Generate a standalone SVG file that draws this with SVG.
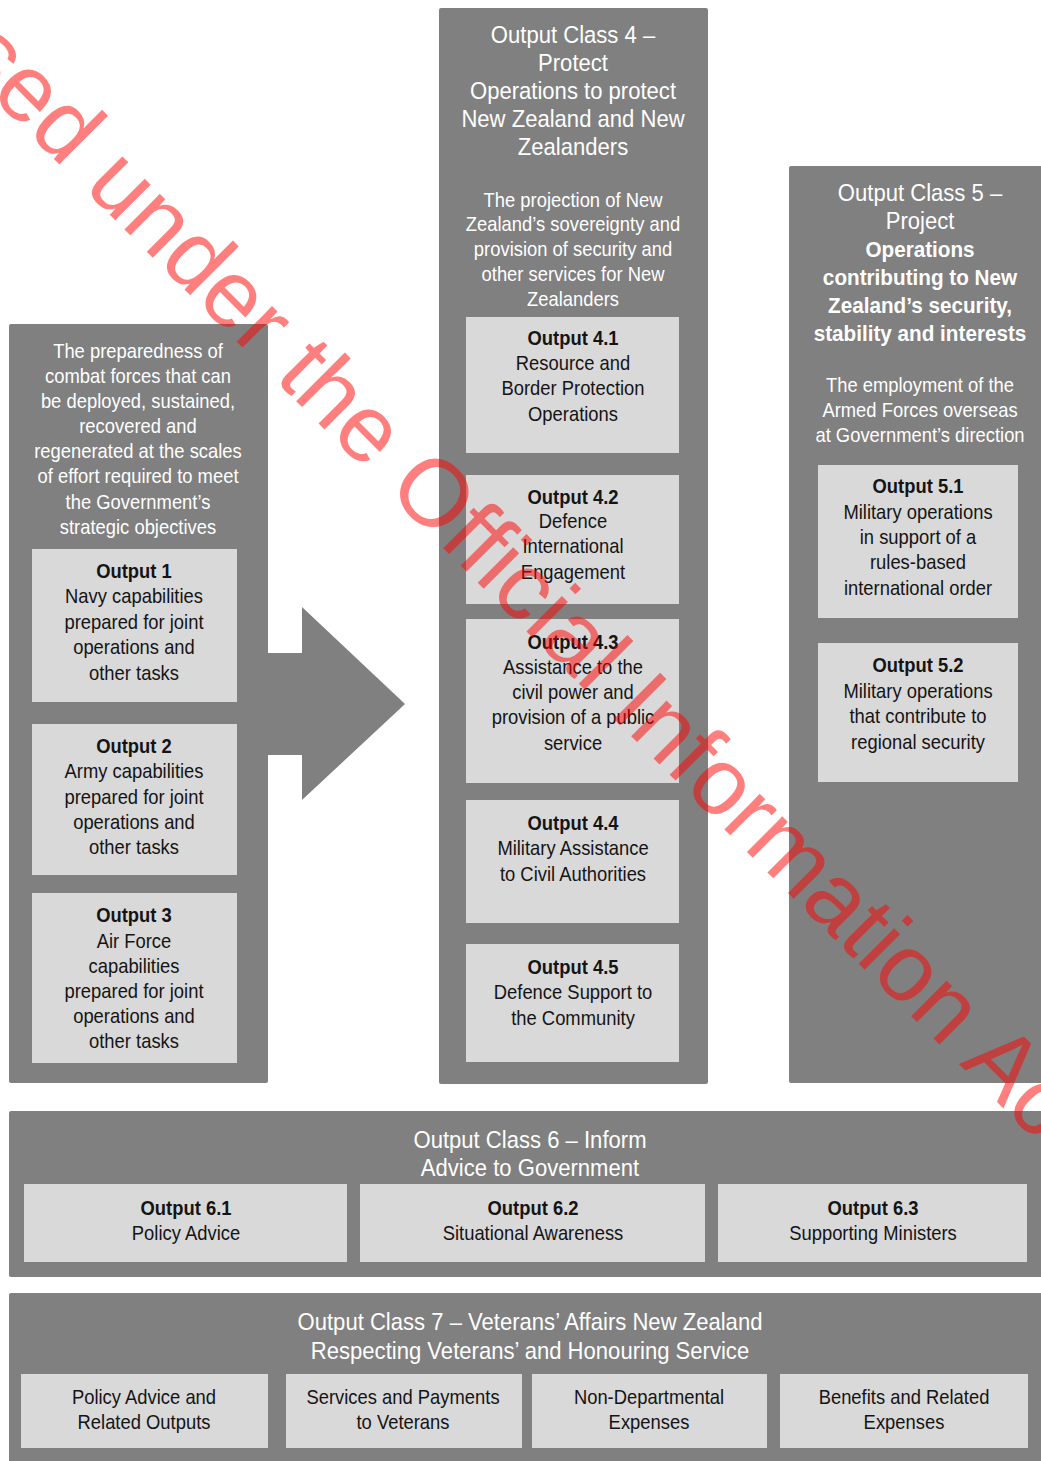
<svg xmlns="http://www.w3.org/2000/svg" width="1041" height="1461" viewBox="0 0 1041 1461">
<style>
.panel{fill:#808080}
.box{fill:#d9d9d9}
.t{font-family:"Liberation Sans",Arial,sans-serif;text-anchor:middle}
.w{fill:#ffffff}
.d{fill:#141414}
.s20{font-size:20px}
.s24{font-size:24px}
.b{font-weight:bold}
.wm{font-family:"Liberation Sans",Arial,sans-serif;font-size:95px;fill:#ff0000;fill-opacity:0.5}
</style>
<rect width="1041" height="1461" fill="#ffffff"/>

<g id="class-prepare">
<rect class="panel" x="9" y="324" width="259" height="759" rx="2"/>
<g class="t w s20" transform="translate(138,0) scale(0.92,1)">
<text x="0" y="358">The preparedness of</text>
<text x="0" y="383">combat forces that can</text>
<text x="0" y="408">be deployed, sustained,</text>
<text x="0" y="433">recovered and</text>
<text x="0" y="458">regenerated at the scales</text>
<text x="0" y="483">of effort required to meet</text>
<text x="0" y="509">the Government’s</text>
<text x="0" y="534">strategic objectives</text>
</g>
</g>

<g id="output-1">
<rect class="box" x="32" y="549" width="205" height="153"/>
<g class="t d s20" transform="translate(134,0) scale(0.92,1)">
<text x="0" y="578" class="b">Output 1</text>
<text x="0" y="603">Navy capabilities</text>
<text x="0" y="629">prepared for joint</text>
<text x="0" y="654">operations and</text>
<text x="0" y="680">other tasks</text>
</g>
</g>

<g id="output-2">
<rect class="box" x="32" y="724" width="205" height="151"/>
<g class="t d s20" transform="translate(134,0) scale(0.92,1)">
<text x="0" y="753" class="b">Output 2</text>
<text x="0" y="778">Army capabilities</text>
<text x="0" y="804">prepared for joint</text>
<text x="0" y="829">operations and</text>
<text x="0" y="854">other tasks</text>
</g>
</g>

<g id="output-3">
<rect class="box" x="32" y="893" width="205" height="170"/>
<g class="t d s20" transform="translate(134,0) scale(0.92,1)">
<text x="0" y="922" class="b">Output 3</text>
<text x="0" y="948">Air Force</text>
<text x="0" y="973">capabilities</text>
<text x="0" y="998">prepared for joint</text>
<text x="0" y="1023">operations and</text>
<text x="0" y="1048">other tasks</text>
</g>
</g>

<g id="connectors">
<polygon class="panel" points="266,653 302,653 302,607 405,704 302,800 302,755 266,755"/>
</g>

<g id="class-4">
<rect class="panel" x="439" y="8" width="269" height="1076" rx="2"/>
<g class="t w s24" transform="translate(573,0) scale(0.92,1)">
<text x="0" y="43">Output Class 4 –</text>
<text x="0" y="71">Protect</text>
<text x="0" y="99">Operations to protect</text>
<text x="0" y="127">New Zealand and New</text>
<text x="0" y="155">Zealanders</text>
</g>
<g class="t w s20" transform="translate(573,0) scale(0.92,1)">
<text x="0" y="207">The projection of New</text>
<text x="0" y="231">Zealand’s sovereignty and</text>
<text x="0" y="256">provision of security and</text>
<text x="0" y="281">other services for New</text>
<text x="0" y="306">Zealanders</text>
</g>
</g>

<g id="output-4-1">
<rect class="box" x="466" y="317" width="213" height="136"/>
<g class="t d s20" transform="translate(573,0) scale(0.92,1)">
<text x="0" y="345" class="b">Output 4.1</text>
<text x="0" y="370">Resource and</text>
<text x="0" y="395">Border Protection</text>
<text x="0" y="421">Operations</text>
</g>
</g>

<g id="output-4-2">
<rect class="box" x="466" y="475" width="213" height="129"/>
<g class="t d s20" transform="translate(573,0) scale(0.92,1)">
<text x="0" y="504" class="b">Output 4.2</text>
<text x="0" y="528">Defence</text>
<text x="0" y="553">International</text>
<text x="0" y="579">Engagement</text>
</g>
</g>

<g id="output-4-3">
<rect class="box" x="466" y="619" width="213" height="164"/>
<g class="t d s20" transform="translate(573,0) scale(0.92,1)">
<text x="0" y="649" class="b">Output 4.3</text>
<text x="0" y="674">Assistance to the</text>
<text x="0" y="699">civil power and</text>
<text x="0" y="724">provision of a public</text>
<text x="0" y="750">service</text>
</g>
</g>

<g id="output-4-4">
<rect class="box" x="466" y="800" width="213" height="123"/>
<g class="t d s20" transform="translate(573,0) scale(0.92,1)">
<text x="0" y="830" class="b">Output 4.4</text>
<text x="0" y="855">Military Assistance</text>
<text x="0" y="881">to Civil Authorities</text>
</g>
</g>

<g id="output-4-5">
<rect class="box" x="466" y="944" width="213" height="118"/>
<g class="t d s20" transform="translate(573,0) scale(0.92,1)">
<text x="0" y="974" class="b">Output 4.5</text>
<text x="0" y="999">Defence Support to</text>
<text x="0" y="1025">the Community</text>
</g>
</g>

<g id="class-5">
<rect class="panel" x="789" y="166" width="260" height="917" rx="2"/>
<g class="t w" transform="translate(920,0) scale(0.92,1)">
<text x="0" y="201" class="s24">Output Class 5 –</text>
<text x="0" y="229" class="s24">Project</text>
<text x="0" y="257" style="font-size:22.5px" class="b">Operations</text>
<text x="0" y="285" style="font-size:22.5px" class="b">contributing to New</text>
<text x="0" y="313" style="font-size:22.5px" class="b">Zealand’s security,</text>
<text x="0" y="341" style="font-size:22.5px" class="b">stability and interests</text>
</g>
<g class="t w s20" transform="translate(920,0) scale(0.92,1)">
<text x="0" y="392">The employment of the</text>
<text x="0" y="417">Armed Forces overseas</text>
<text x="0" y="442">at Government’s direction</text>
</g>
</g>

<g id="output-5-1">
<rect class="box" x="818" y="465" width="200" height="153"/>
<g class="t d s20" transform="translate(918,0) scale(0.92,1)">
<text x="0" y="493" class="b">Output 5.1</text>
<text x="0" y="519">Military operations</text>
<text x="0" y="544">in support of a</text>
<text x="0" y="569">rules-based</text>
<text x="0" y="595">international order</text>
</g>
</g>

<g id="output-5-2">
<rect class="box" x="818" y="643" width="200" height="139"/>
<g class="t d s20" transform="translate(918,0) scale(0.92,1)">
<text x="0" y="672" class="b">Output 5.2</text>
<text x="0" y="698">Military operations</text>
<text x="0" y="723">that contribute to</text>
<text x="0" y="749">regional security</text>
</g>
</g>

<g id="class-6">
<rect class="panel" x="9" y="1111" width="1040" height="166" rx="2"/>
<g class="t w s24" transform="translate(530,0) scale(0.92,1)">
<text x="0" y="1148">Output Class 6 – Inform</text>
<text x="0" y="1176">Advice to Government</text>
</g>
</g>

<g id="output-6-1">
<rect class="box" x="24" y="1184" width="323" height="78"/>
<g class="t d s20" transform="translate(186,0) scale(0.92,1)">
<text x="0" y="1215" class="b">Output 6.1</text>
<text x="0" y="1240">Policy Advice</text>
</g>
</g>

<g id="output-6-2">
<rect class="box" x="360" y="1184" width="345" height="78"/>
<g class="t d s20" transform="translate(533,0) scale(0.92,1)">
<text x="0" y="1215" class="b">Output 6.2</text>
<text x="0" y="1240">Situational Awareness</text>
</g>
</g>

<g id="output-6-3">
<rect class="box" x="718" y="1184" width="309" height="78"/>
<g class="t d s20" transform="translate(873,0) scale(0.92,1)">
<text x="0" y="1215" class="b">Output 6.3</text>
<text x="0" y="1240">Supporting Ministers</text>
</g>
</g>

<g id="class-7">
<rect class="panel" x="9" y="1293" width="1040" height="180" rx="2"/>
<g class="t w s24" transform="translate(530,0) scale(0.92,1)">
<text x="0" y="1330">Output Class 7 – Veterans’ Affairs New Zealand</text>
<text x="0" y="1359">Respecting Veterans’ and Honouring Service</text>
</g>
</g>

<g id="output-7-1">
<rect class="box" x="21" y="1374" width="247" height="74"/>
<g class="t d s20" transform="translate(144,0) scale(0.92,1)">
<text x="0" y="1404">Policy Advice and</text>
<text x="0" y="1429">Related Outputs</text>
</g>
</g>

<g id="output-7-2">
<rect class="box" x="286" y="1374" width="236" height="74"/>
<g class="t d s20" transform="translate(403,0) scale(0.92,1)">
<text x="0" y="1404">Services and Payments</text>
<text x="0" y="1429">to Veterans</text>
</g>
</g>

<g id="output-7-3">
<rect class="box" x="532" y="1374" width="235" height="74"/>
<g class="t d s20" transform="translate(649,0) scale(0.92,1)">
<text x="0" y="1404">Non-Departmental</text>
<text x="0" y="1429">Expenses</text>
</g>
</g>

<g id="output-7-4">
<rect class="box" x="780" y="1374" width="248" height="74"/>
<g class="t d s20" transform="translate(904,0) scale(0.92,1)">
<text x="0" y="1404">Benefits and Related</text>
<text x="0" y="1429">Expenses</text>
</g>
</g>

<g id="watermark">
<text class="wm" transform="translate(-220,-115) rotate(45)" x="0" y="0">Released under the Official Information Act</text>
</g>
</svg>
